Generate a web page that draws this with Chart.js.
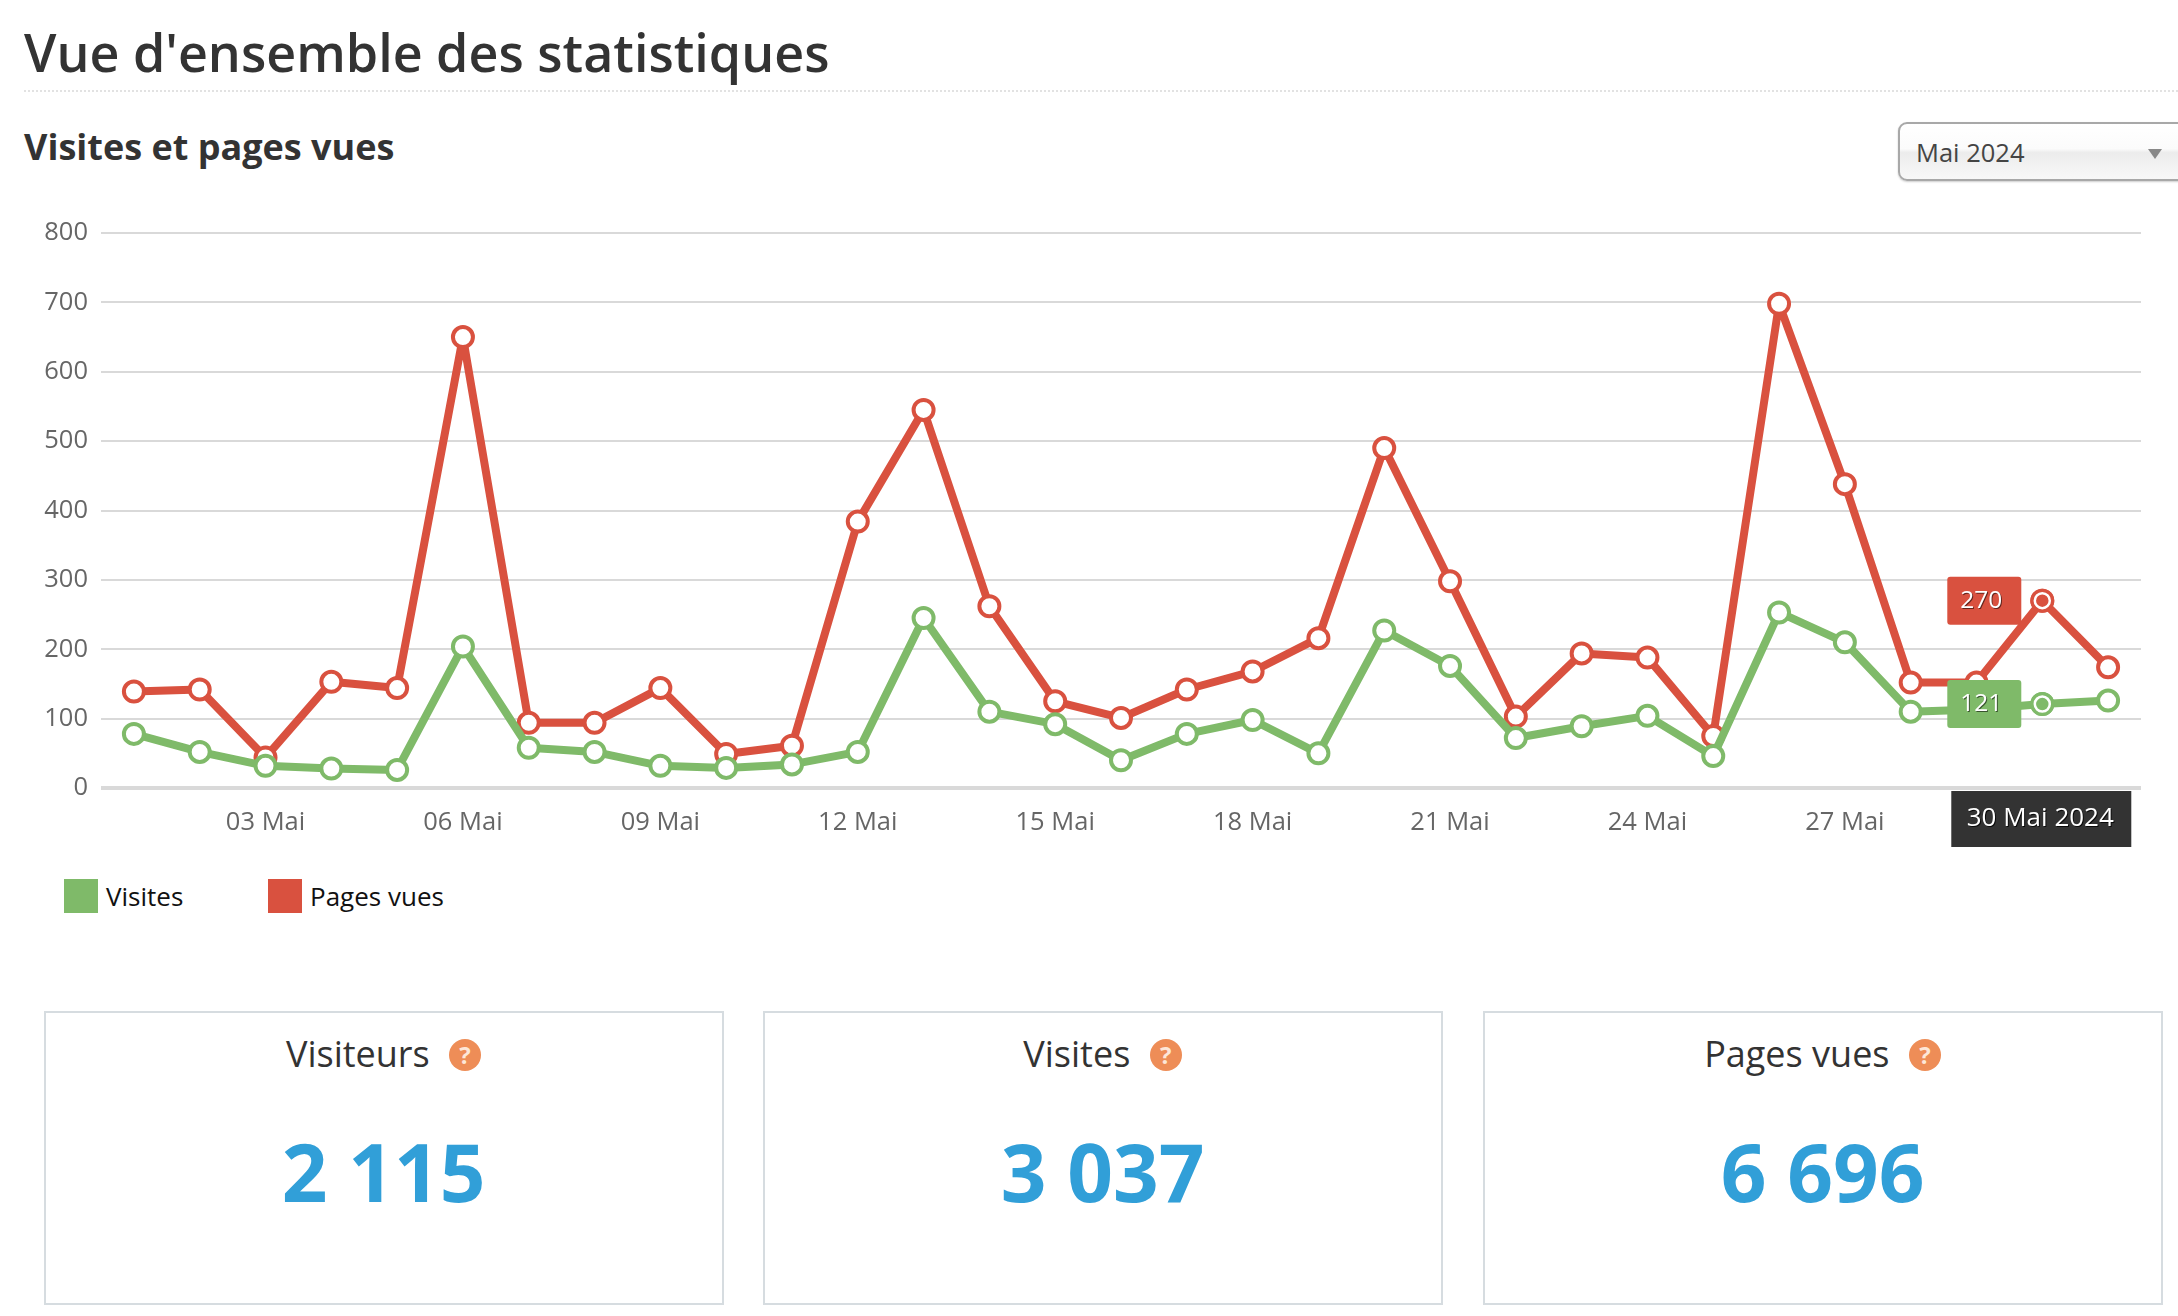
<!DOCTYPE html>
<html lang="fr">
<head>
<meta charset="utf-8">
<title>Vue d'ensemble des statistiques</title>
<script src="https://cdn.jsdelivr.net/npm/chart.js@4"></script>
<style>
  html, body { margin: 0; padding: 0; background: #fff; overflow: hidden; }
  body { width: 2178px; height: 1316px; position: relative; font-family: "Open Sans", sans-serif; color: #333; }
  h1 { position: absolute; left: 24px; top: 16px; margin: 0; font-size: 52px; line-height: 72px; font-weight: 600; white-space: nowrap; }
  .rule { position: absolute; left: 24px; right: 0; top: 90px; border-top: 2px dotted #e2e2e2; }
  h2 { position: absolute; left: 24px; top: 122px; margin: 0; font-size: 36px; line-height: 50px; font-weight: 700; white-space: nowrap; }
  .select { position: absolute; left: 1898px; top: 122px; width: 300px; height: 59px; box-sizing: border-box; border: 2px solid #a8a8a8; border-radius: 9px;
    background: linear-gradient(#fff 0%, #fbfbfb 45%, #ececec 52%, #f8f8f8 100%); box-shadow: 0 1px 2px rgba(0,0,0,.2); font-size: 25.5px; line-height: 56px; padding-left: 16px; color: #444; }
  .select i { position: absolute; left: 248px; top: 25px; width: 0; height: 0; border-left: 7px solid transparent; border-right: 7px solid transparent; border-top: 10px solid #888; }
  #wrap { position: absolute; left: 0; top: 200px; width: 2178px; height: 660px; }
  #visitsChart { display: block; }
  #legend span { position: absolute; top: 879px; height: 34px; line-height: 34px; font-size: 26px; color: #111; white-space: nowrap; }
  #legend b { position: absolute; left: -42px; top: 0; width: 34px; height: 34px; }
  .card { position: absolute; top: 1011px; width: 680px; height: 294px; box-sizing: border-box; border: 2px solid #d6dce0; text-align: center; }
  .card .name { position: absolute; left: -1px; right: 0; top: 18px; font-size: 36px; line-height: 46px; }
  .card .help { display: inline-block; width: 32px; height: 32px; border-radius: 50%; margin-left: 10px; background: #ee8d57; color: #fde7d8; font-size: 24px; line-height: 32px; font-weight: 700; vertical-align: 3px; }
  .card .num { position: absolute; left: -1px; right: 0; top: 98px; font-size: 80px; line-height: 120px; font-weight: 700; color: #319fd8; }
</style>
</head>
<body>
<h1>Vue d'ensemble des statistiques</h1>
<div class="rule"></div>
<h2>Visites et pages vues</h2>
<div class="select">Mai 2024<i></i></div>
<div id="wrap"><canvas id="visitsChart" width="2178" height="660"></canvas></div>
<div id="legend"></div>
<div id="cards"></div>

<script>
const days = ['01 Mai','02 Mai','03 Mai','04 Mai','05 Mai','06 Mai','07 Mai','08 Mai','09 Mai','10 Mai','11 Mai','12 Mai','13 Mai','14 Mai','15 Mai','16 Mai','17 Mai','18 Mai','19 Mai','20 Mai','21 Mai','22 Mai','23 Mai','24 Mai','25 Mai','26 Mai','27 Mai','28 Mai','29 Mai','30 Mai','31 Mai'];
const visites = [78,52,32,28,26,204,58,52,32,29,34,52,245,110,92,40,78,98,50,227,176,72,89,104,46,253,210,110,113,121,126];
const pagesVues = [139,142,44,153,144,650,94,94,144,49,61,384,545,262,125,101,142,168,216,490,298,103,194,188,75,698,438,152,152,270,174];
const yTicks = [0,100,200,300,400,500,600,700,800];
const cardNames = ['Visiteurs','Visites','Pages vues'];
const cardValues = ['2 115','3 037','6 696'];
const cardLeft = [44,763,1483];

const GREEN = '#7fba69';
const RED = '#d9513f';
const HOVER = 29; // 30 Mai
const HOVER_TITLE = '30 Mai 2024';

cardNames.forEach(function(name, i){
  let c = document.createElement('div');
  c.className = 'card';
  c.style.left = cardLeft[i] + 'px';
  c.innerHTML = `<div class="name">${name} <span class="help">?</span></div><div class="num">${cardValues[i]}</div>`;
  document.getElementById('cards').appendChild(c);
});

// hover state: ring on the 30 Mai points + the value and date tooltips
const hoverPlugin = {
  id: 'hoverTips',
  afterDatasetsDraw(chart){
    const ctx = chart.ctx;
    ctx.save();
    chart.data.datasets.forEach(function(ds, d){
      let pt = chart.getDatasetMeta(d).data[HOVER];
      ctx.beginPath();
      ctx.arc(pt.x, pt.y, 12, 0, Math.PI*2);
      ctx.fillStyle = ds.borderColor;
      ctx.fill();
      ctx.beginPath();
      ctx.arc(pt.x, pt.y, 7.5, 0, Math.PI*2);
      ctx.strokeStyle = '#fff';
      ctx.lineWidth = 2.5;
      ctx.stroke();

      let w = 74, h = 48;
      let x = pt.x - 21 - w, y = pt.y - h/2;
      ctx.beginPath();
      ctx.roundRect(x, y, w, h, 3);
      ctx.fillStyle = ds.borderColor;
      ctx.fill();
      ctx.font = '24.5px "Open Sans"';
      ctx.textAlign = 'center';
      ctx.textBaseline = 'middle';
      ctx.fillStyle = 'rgba(0,0,0,.55)';
      ctx.fillText(ds.data[HOVER], x + w/2 - 2, y + h/2 + 1);
      ctx.fillStyle = '#fff';
      ctx.fillText(ds.data[HOVER], x + w/2 - 3, y + h/2);
    });
    let xPos = chart.scales.x.getPixelForValue(HOVER);
    let yPos = chart.scales.y.getPixelForValue(0);
    let w = 180, h = 56;
    ctx.fillStyle = '#333';
    ctx.fillRect(xPos - 91, yPos + 3, w, h);
    ctx.font = '26px "Open Sans"';
    ctx.textAlign = 'center';
    ctx.textBaseline = 'middle';
    ctx.fillStyle = 'rgba(0,0,0,.8)';
    ctx.fillText(HOVER_TITLE, xPos - 2 + 1, yPos + 3 + h/2 + 1);
    ctx.fillStyle = '#fff';
    ctx.fillText(HOVER_TITLE, xPos - 2, yPos + 3 + h/2);
    ctx.restore();
  }
};

function series(label, data, color){
  return {
    label: label,
    data: data,
    borderColor: color,
    backgroundColor: color,
    borderWidth: 8,
    borderJoinStyle: 'round',
    tension: 0,
    pointRadius: 10,
    pointBorderWidth: 4,
    pointBorderColor: color,
    pointBackgroundColor: '#fff'
  };
}

let legendLeft = [106, 310];
[['Visites', GREEN], ['Pages vues', RED]].forEach(function(item, i){
  let s = document.createElement('span');
  s.style.left = legendLeft[i] + 'px';
  s.innerHTML = `<b style="background:${item[1]}"></b>${item[0]}`;
  document.getElementById('legend').appendChild(s);
});

new Chart(document.getElementById('visitsChart').getContext('2d'), {
  type: 'line',
  data: {
    labels: days,
    datasets: [series('Visites', visites, GREEN), series('Pages vues', pagesVues, RED)]
  },
  plugins: [hoverPlugin],
  options: {
    responsive: false,
    animation: false,
    events: [],
    layout: { padding: { left: 0, right: 37, top: 33, bottom: 0 } },
    scales: {
      x: {
        offset: true,
        grid: { display: false, drawTicks: false },
        border: { display: false },
        afterFit(scale){ scale.height = 72; },
        ticks: {
          autoSkip: false,
          maxRotation: 0,
          padding: 19,
          color: '#666',
          font: { family: '"Open Sans"', size: 25.5 },
          callback(value, i){ return (i + 1) % 3 == 0 ? days[i] : ''; }
        }
      },
      y: {
        min: 0,
        max: 800,
        grid: {
          drawTicks: false,
          color: '#d9d9d9',
          lineWidth: c => c.tick.value === 0 ? 4 : 2
        },
        border: { display: false },
        afterFit(scale){ scale.width = 101; },
        afterBuildTicks(scale){ scale.ticks = yTicks.map(v => ({ value: v })); },
        ticks: {
          padding: 13,
          color: '#666',
          font: { family: '"Open Sans"', size: 25.5 }
        }
      }
    },
    plugins: {
      tooltip: { enabled: false },
      title: { display: false },
      legend: { display: false }
    }
  }
});
</script>
</body>
</html>
